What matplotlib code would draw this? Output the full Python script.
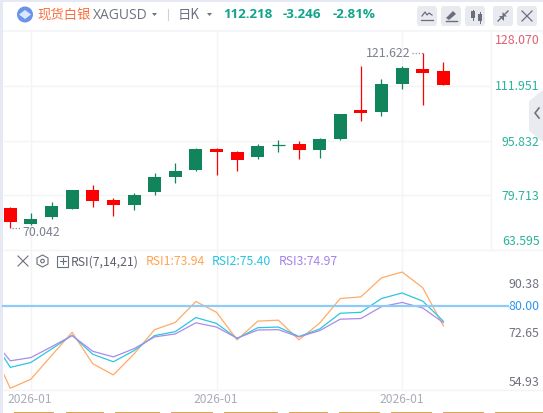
#!/usr/bin/env python3
""" Silver daily candles with RSI pane, drawn like the quote widget """

import matplotlib
matplotlib.use('Agg')
import matplotlib.pyplot as plt
from matplotlib.patches import Circle, FancyBboxPatch, Polygon, Rectangle

plt.rcParams['font.family'] = ['Noto Sans CJK SC', 'DejaVu Sans']

# ---------------------------------------------------------------------------
# DATA
# ---------------------------------------------------------------------------
opens = [76.0, 71.3, 73.3, 75.7, 81.3, 78.2, 76.9, 80.7, 85.2, 87.2, 93.4,
         92.5, 91.1, 94.5, 94.9, 93.1, 96.4, 104.7, 104.1, 112.6, 116.8, 116.2]
highs = [76.3, 74.5, 77.8, 81.3, 82.8, 79.0, 80.4, 86.3, 89.3, 93.7, 93.7,
         92.8, 94.9, 96.1, 95.8, 96.7, 103.5, 117.9, 113.8, 117.7, 121.622, 118.8]
lows = [70.042, 71.0, 72.8, 75.7, 76.3, 73.6, 75.4, 79.8, 83.4, 86.9, 85.8,
        86.9, 90.5, 92.5, 90.5, 90.8, 96.1, 101.7, 102.9, 110.9, 106.4, 112.218]
closes = [71.7, 72.8, 76.6, 81.3, 78.1, 76.9, 79.8, 85.2, 86.9, 93.4, 92.5,
          90.2, 94.3, 94.6, 93.1, 96.4, 103.5, 103.8, 112.6, 117.1, 115.6, 112.218]

# first RSI value belongs to the candle just left of the visible window
rsi1 = [68.4, 54.93, 57.7, 64.9, 72.0, 62.4, 59.0, 65.4, 72.8, 75.0, 81.4, 78.1,
        69.7, 75.4, 75.7, 69.7, 74.8, 82.3, 82.8, 88.6, 90.38, 85.6, 73.94]
rsi2 = [71.2, 61.3, 62.8, 66.9, 71.1, 65.3, 63.0, 66.4, 71.0, 72.2, 76.5, 74.7,
        70.1, 73.4, 73.6, 70.7, 73.0, 77.8, 78.1, 82.3, 84.0, 81.5, 75.40]
rsi3 = [70.9, 63.3, 64.3, 67.6, 71.0, 66.2, 64.5, 67.0, 70.6, 71.5, 74.9, 73.6,
        70.2, 72.7, 72.8, 70.6, 72.5, 76.0, 76.2, 79.8, 81.1, 79.4, 74.97]

price_ticks = ['128.070', '111.951', '95.832', '79.713', '63.595']
rsi_ticks = ['90.38', '80.00', '72.65', '54.93']
date_label = '2026-01'
date_candles = [1, 10, 19]

W, H = 543, 414
GRID = '#f3f4f8'
UP = '#11845b'
DOWN = '#fe0000'


def px_axes(fig, x0, y0, x1, y1):
    # axes placed by pixel box, y measured from the top of the picture
    return fig.add_axes([x0/W, 1-y1/H, (x1-x0)/W, (y1-y0)/H])


def clean(ax):
    for s in ax.spines.values():
        s.set_visible(False)
    ax.set_xticks([])
    ax.set_yticks([])
    ax.patch.set_alpha(0)


# ---------------------------------------------------------------------------
# MAIN FUNCTION
# ---------------------------------------------------------------------------
def main():
    fig = plt.figure(figsize=(W/100, H/100), dpi=100, facecolor='white')
    xs = list(range(len(opens)))
    xlim = (-0.305, 23.31)

    # --- candles
    ax = px_axes(fig, 4, 32, 491, 251)
    clean(ax)
    ax.set_xlim(xlim)
    ax.set_ylim(63.595, 128.07)
    for p in (79.713, 95.832, 111.951):
        ax.axhline(p, color=GRID, lw=1, zorder=0)
    for c in date_candles:
        ax.axvline(c, color=GRID, lw=1, zorder=0)
    for i in xs:
        col = UP if closes[i] >= opens[i] else DOWN
        ax.vlines(i, lows[i], highs[i], color=col, lw=0.9, zorder=2)
        bottom = min(opens[i], closes[i])
        height = abs(closes[i]-opens[i])
        if height < 0.3:
            ax.hlines(opens[i], i-0.32, i+0.32, color=col, lw=0.9, zorder=2)
        else:
            ax.bar(i, height, 0.63, bottom=bottom, color=col, lw=0, zorder=3)

    # high and low marks
    ax.hlines(max(highs), 19.48, 20, color='#8a8e99', lw=0.9, ls=(0, (1, 1.5)))
    ax.text(19.42, max(highs), '121.622', ha='right', va='center', fontsize=8.9, color='#7d818d')
    ax.hlines(min(lows), 0.1, 0.52, color='#8a8e99', lw=0.9, ls=(0, (1, 1.5)))
    ax.text(0.58, min(lows)-0.9, '70.042', ha='left', va='center', fontsize=8.9, color='#7d818d')

    # --- RSI
    ar = px_axes(fig, 4, 251, 491, 391)
    clean(ar)
    ar.set_xlim(xlim)
    ar.set_ylim(54.4, 97.1)
    for c in date_candles:
        ar.axvline(c, color=GRID, lw=1, zorder=0)
    rsi_x = [-1] + xs
    ar.plot(rsi_x, rsi1, color='#ffab66', lw=0.9, zorder=3)
    ar.plot(rsi_x, rsi2, color='#2cc6df', lw=0.9, zorder=3)
    ar.plot(rsi_x, rsi3, color='#a98bea', lw=0.9, zorder=3)

    # --- page furniture in pixel coordinates
    ov = fig.add_axes([0, 0, 1, 1], zorder=5)
    ov.set_xlim(0, W)
    ov.set_ylim(H, 0)
    ov.axis('off')
    ov.patch.set_alpha(0)

    ov.add_patch(Rectangle((0, 0), W, 2.5, color='#e6e9f3', lw=0))
    ov.add_patch(Rectangle((0, 0), 3, H, color='#e6e9f3', lw=0))
    ov.add_patch(Rectangle((3, 31), W, 1.5, color='#f5f6f9', lw=0))
    ov.plot([3, W], [251, 251], color=GRID, lw=1)
    ov.plot([3, W], [391, 391], color=GRID, lw=1)
    ov.plot([491, 491], [32, 251], color=GRID, lw=1)
    ov.plot([3, 508], [307, 307], color='#8fcbf7', lw=1.6)

    # header
    ov.add_patch(Circle((25, 15.5), 8, color='#6a93ea', lw=0))
    ov.add_patch(Polygon([(19, 15.5), (25, 11), (31, 15.5), (25, 20)], color='#dce7fb', lw=0))
    ov.text(37, 14.5, '现货白银', fontsize=9.6, color='#fb6f3c', va='center')
    ov.text(93, 15.5, 'XAGUSD', fontsize=10, color='#6f7380', va='center', family=['Open Sans', 'DejaVu Sans'])
    ov.add_patch(Polygon([(152, 14), (157, 14), (154.5, 17)], color='#6f7380', lw=0))
    ov.plot([168, 168], [10, 21], color='#cfd2da', lw=0.8)
    ov.text(178, 14.5, '日K', fontsize=9.6, color='#6f7380', va='center')
    ov.add_patch(Polygon([(207, 14), (212, 14), (209.5, 17)], color='#6f7380', lw=0))
    for x, txt in zip((223, 283, 333), ('112.218', '-3.246', '-2.81%')):
        ov.text(x, 14.5, txt, fontsize=9.6, fontweight='bold', color='#10a58a', va='center',
                family=['Open Sans', 'DejaVu Sans'])

    # toolbar buttons
    for x0 in (417, 441, 465, 493, 517):
        ov.add_patch(FancyBboxPatch((x0+2, 9), 16, 16, boxstyle='round,pad=2,rounding_size=3',
                                    fc='#e8eaf0', ec='none'))
    ico = '#6b6f7b'
    ov.plot([422, 425, 427, 429, 432], [17, 13, 16, 14, 16], color=ico, lw=0.9)
    ov.plot([421, 433], [21, 21], color=ico, lw=0.9)
    ov.add_patch(Polygon([(446, 19), (453, 12), (456, 15), (449, 21)], color=ico, lw=0))
    ov.plot([446, 457], [22, 22], color=ico, lw=1)
    ov.add_patch(Rectangle((470.5, 12), 4, 7, color=ico, lw=0))
    ov.add_patch(Rectangle((477.5, 15), 4, 7, color=ico, lw=0))
    ov.plot([472.5, 472.5], [11, 21], color=ico, lw=0.7)
    ov.plot([479.5, 479.5], [13, 24], color=ico, lw=0.7)
    # pinch arrows, pointing at the middle of the button
    ov.plot([498, 501], [22, 19], color=ico, lw=1)
    ov.add_patch(Polygon([(499, 17), (503.5, 17), (503.5, 21.5)], color=ico, lw=0))
    ov.plot([505, 508], [15, 12], color=ico, lw=1)
    ov.add_patch(Polygon([(502.5, 13), (507, 17.5), (502.5, 17.5)], color=ico, lw=0))
    ov.plot([522, 532], [12, 22], color=ico, lw=0.9)
    ov.plot([532, 522], [12, 22], color=ico, lw=0.9)

    # side tab
    ov.add_patch(Polygon([(529, 102), (543, 91), (543, 143), (529, 132)], color='#eaebf1', lw=0))
    ov.plot([539, 535, 539], [109, 114, 119], color='#6f7380', lw=1.2)

    # axis labels
    for y, txt, col in zip((40, 87, 143, 197, 242), price_ticks,
                           ('#e0606f', '#2bb39b', '#2bb39b', '#2bb39b', '#2bb39b')):
        ov.text(539.5, y, txt, ha='right', va='center', fontsize=8.9, color=col)
    for y, txt, col in zip((285, 307, 333.5, 382.5), rsi_ticks,
                           ('#6f7380', '#2f97f0', '#6f7380', '#6f7380')):
        ov.text(539.5, y, txt, ha='right', va='center', fontsize=8.9, color=col)
    for x in (30, 216, 402):
        ov.text(x, 399.5, date_label, ha='center', va='center', fontsize=8.7, color='#a9adb8')

    # RSI legend
    ov.plot([18, 28], [257, 267], color=ico, lw=0.8)
    ov.plot([28, 18], [257, 267], color=ico, lw=0.8)
    ov.add_patch(Polygon([(42.5, 256), (48, 259), (48, 265), (42.5, 268), (37, 265), (37, 259)],
                         fc='none', ec=ico, lw=0.8))
    ov.add_patch(Circle((42.5, 262), 1.8, fc='none', ec=ico, lw=0.8))
    ov.add_patch(Rectangle((57, 256.5), 11, 11, fc='none', ec=ico, lw=0.8))
    ov.plot([59.5, 65.5], [262, 262], color=ico, lw=0.8)
    ov.plot([62.5, 62.5], [259, 265], color=ico, lw=0.8)
    ov.text(71, 262, 'RSI(7,14,21)', fontsize=8.8, color='#5c606c', va='center')
    ov.text(146, 262, 'RSI1:73.94', fontsize=8.8, color='#ffa351', va='center')
    ov.text(212, 262, 'RSI2:75.40', fontsize=8.8, color='#2ac4e0', va='center')
    ov.text(279, 262, 'RSI3:74.97', fontsize=8.8, color='#a582ea', va='center')

    # cut off row at the very bottom
    for a, b in [(14, 54), (66, 104), (115, 160), (171, 213), (224, 278),
                 (289, 328), (339, 380), (391, 432), (443, 484), (495, 543)]:
        ov.add_patch(Rectangle((a, 412.8), b-a, 1.2, color='#d9a55b', lw=0))

    fig.savefig('out.png', dpi=100)


# ---------------------------------------------------------------------------
# COMMAND LINE EXECUTION
# ---------------------------------------------------------------------------
if __name__ == "__main__":
    main()
